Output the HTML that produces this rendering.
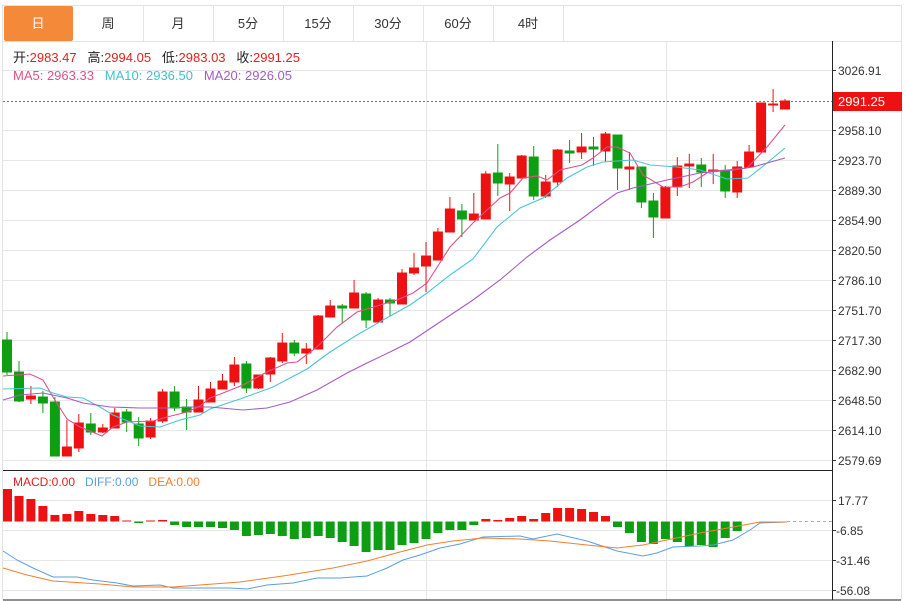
<!DOCTYPE html>
<html><head><meta charset="utf-8"><style>
body{margin:0;background:#fff;width:908px;height:601px;overflow:hidden;font-family:"Liberation Sans","Noto Sans CJK SC",sans-serif}
svg{position:absolute;left:0;top:0}
.t{font-size:13px;fill:#333;text-anchor:middle}
.ax{font-size:12px;fill:#333}
</style></head><body>
<svg width="908" height="601" xmlns="http://www.w3.org/2000/svg">
<rect x="2.5" y="5.5" width="899" height="36" fill="#fff" stroke="#e3e3e3"/>
<rect x="4" y="6" width="69" height="35" fill="#f5893a" rx="2"/>
<g stroke="#e3e3e3"><line x1="143.5" y1="6" x2="143.5" y2="41"/><line x1="213.5" y1="6" x2="213.5" y2="41"/><line x1="283.5" y1="6" x2="283.5" y2="41"/><line x1="353.5" y1="6" x2="353.5" y2="41"/><line x1="423.5" y1="6" x2="423.5" y2="41"/><line x1="493.5" y1="6" x2="493.5" y2="41"/><line x1="563.5" y1="6" x2="563.5" y2="41"/></g>
<text class="t" x="38" y="28" style="fill:#fff">日</text>
<text class="t" x="108" y="28">周</text>
<text class="t" x="178" y="28">月</text>
<text class="t" x="248" y="28">5分</text>
<text class="t" x="318" y="28">15分</text>
<text class="t" x="388" y="28">30分</text>
<text class="t" x="458" y="28">60分</text>
<text class="t" x="528" y="28">4时</text>
<line x1="2.5" y1="41" x2="2.5" y2="600" stroke="#e3e3e3"/>
<line x1="901.5" y1="41" x2="901.5" y2="600" stroke="#e3e3e3"/>
<g stroke="#e6e6e6">
<line x1="3" y1="70.5" x2="832" y2="70.5"/><line x1="3" y1="130.5" x2="832" y2="130.5"/><line x1="3" y1="160.5" x2="832" y2="160.5"/><line x1="3" y1="190.5" x2="832" y2="190.5"/><line x1="3" y1="220.5" x2="832" y2="220.5"/><line x1="3" y1="250.5" x2="832" y2="250.5"/><line x1="3" y1="280.5" x2="832" y2="280.5"/><line x1="3" y1="310.5" x2="832" y2="310.5"/><line x1="3" y1="340.5" x2="832" y2="340.5"/><line x1="3" y1="370.5" x2="832" y2="370.5"/><line x1="3" y1="400.5" x2="832" y2="400.5"/><line x1="3" y1="430.5" x2="832" y2="430.5"/><line x1="3" y1="460.5" x2="832" y2="460.5"/>
<line x1="3" y1="500.5" x2="832" y2="500.5"/><line x1="3" y1="530.5" x2="832" y2="530.5"/><line x1="3" y1="560.5" x2="832" y2="560.5"/><line x1="3" y1="590.5" x2="832" y2="590.5"/>
<line x1="426.5" y1="41" x2="426.5" y2="600"/><line x1="666.5" y1="41" x2="666.5" y2="600"/>
</g>
<line x1="832.5" y1="41" x2="832.5" y2="600" stroke="#222"/>
<line x1="3" y1="470.5" x2="832" y2="470.5" stroke="#222"/>
<line x1="3" y1="600" x2="901" y2="600" stroke="#222"/>
<g class="ax"><g stroke="#333">
<line x1="832" y1="70.5" x2="836" y2="70.5"/><line x1="832" y1="130.5" x2="836" y2="130.5"/><line x1="832" y1="160.5" x2="836" y2="160.5"/><line x1="832" y1="190.5" x2="836" y2="190.5"/><line x1="832" y1="220.5" x2="836" y2="220.5"/><line x1="832" y1="250.5" x2="836" y2="250.5"/><line x1="832" y1="280.5" x2="836" y2="280.5"/><line x1="832" y1="310.5" x2="836" y2="310.5"/><line x1="832" y1="340.5" x2="836" y2="340.5"/><line x1="832" y1="370.5" x2="836" y2="370.5"/><line x1="832" y1="400.5" x2="836" y2="400.5"/><line x1="832" y1="430.5" x2="836" y2="430.5"/><line x1="832" y1="460.5" x2="836" y2="460.5"/><line x1="832" y1="500.5" x2="836" y2="500.5"/><line x1="832" y1="530.5" x2="836" y2="530.5"/><line x1="832" y1="560.5" x2="836" y2="560.5"/><line x1="832" y1="590.5" x2="836" y2="590.5"/></g>
<text x="838" y="75">3026.91</text><text x="838" y="135">2958.10</text><text x="838" y="165">2923.70</text><text x="838" y="195">2889.30</text><text x="838" y="225">2854.90</text><text x="838" y="255">2820.50</text><text x="838" y="285">2786.10</text><text x="838" y="315">2751.70</text><text x="838" y="345">2717.30</text><text x="838" y="375">2682.90</text><text x="838" y="405">2648.50</text><text x="838" y="435">2614.10</text><text x="838" y="465">2579.69</text>
<text x="838" y="505">17.77</text><text x="836" y="535">-6.85</text><text x="836" y="565">-31.46</text><text x="836" y="595">-56.08</text>
</g>
<line x1="3" y1="101.5" x2="832" y2="101.5" stroke="#f04040" stroke-dasharray="2,2"/>
<rect x="833" y="92" width="69" height="19" fill="#ee1111"/>
<text x="838" y="106" style="font-size:13px;fill:#fff">2991.25</text>
<text x="13" y="62" style="font-size:13px;fill:#222" xml:space="preserve">开:<tspan fill="#e02020">2983.47</tspan>   高:<tspan fill="#e02020">2994.05</tspan>   低:<tspan fill="#e02020">2983.03</tspan>   收:<tspan fill="#e02020">2991.25</tspan></text>
<text x="13" y="80" style="font-size:13px" xml:space="preserve"><tspan fill="#e0508a">MA5: 2963.33</tspan>   <tspan fill="#3ec3c8">MA10: 2936.50</tspan>   <tspan fill="#a35cc4">MA20: 2926.05</tspan></text>
<text x="13" y="486" style="font-size:12px" xml:space="preserve"><tspan fill="#e02020">MACD:0.00</tspan>   <tspan fill="#5a9fe0">DIFF:0.00</tspan>   <tspan fill="#f08030">DEA:0.00</tspan></text>
<g stroke-width="1">
<g fill="#0e9e14" stroke="#0e9e14">
<line x1="7" y1="332" x2="7" y2="375"/><rect x="2.5" y="340" width="9" height="32"/>
<line x1="19" y1="361" x2="19" y2="402"/><rect x="14.5" y="372" width="9" height="29"/>
<line x1="42.9" y1="391" x2="42.9" y2="413"/><rect x="38.4" y="397" width="9" height="6"/>
<line x1="54.9" y1="397" x2="54.9" y2="456"/><rect x="50.4" y="402" width="9" height="54"/>
<line x1="90.8" y1="413" x2="90.8" y2="435"/><rect x="86.3" y="424" width="9" height="8"/>
<line x1="126.7" y1="409" x2="126.7" y2="432"/><rect x="122.2" y="412" width="9" height="10"/>
<line x1="138.7" y1="417" x2="138.7" y2="446"/><rect x="134.2" y="424" width="9" height="14"/>
<line x1="174.6" y1="386" x2="174.6" y2="411"/><rect x="170.1" y="392" width="9" height="16"/>
<line x1="186.6" y1="399" x2="186.6" y2="430"/><rect x="182.1" y="407" width="9" height="5"/>
<line x1="246.4" y1="361" x2="246.4" y2="393"/><rect x="241.9" y="364" width="9" height="24"/>
<line x1="294.3" y1="340" x2="294.3" y2="356"/><rect x="289.8" y="343" width="9" height="10"/>
<line x1="342.2" y1="304" x2="342.2" y2="323"/><rect x="337.7" y="306" width="9" height="2"/>
<line x1="366.1" y1="292" x2="366.1" y2="328"/><rect x="361.6" y="294" width="9" height="26"/>
<line x1="390" y1="298" x2="390" y2="316"/><rect x="385.5" y="300" width="9" height="3"/>
<line x1="461.9" y1="204" x2="461.9" y2="237"/><rect x="457.4" y="211" width="9" height="8"/>
<line x1="497.8" y1="144" x2="497.8" y2="196"/><rect x="493.3" y="173" width="9" height="10"/>
<line x1="533.7" y1="146" x2="533.7" y2="200"/><rect x="529.2" y="157" width="9" height="39"/>
<line x1="569.6" y1="140" x2="569.6" y2="163"/><rect x="565.1" y="151" width="9" height="2"/>
<line x1="593.5" y1="137" x2="593.5" y2="166"/><rect x="589" y="147" width="9" height="2"/>
<line x1="617.5" y1="135" x2="617.5" y2="190"/><rect x="613" y="135" width="9" height="33"/>
<line x1="641.4" y1="167" x2="641.4" y2="208"/><rect x="636.9" y="167" width="9" height="35"/>
<line x1="653.4" y1="193" x2="653.4" y2="238"/><rect x="648.9" y="201" width="9" height="16"/>
<line x1="701.3" y1="158" x2="701.3" y2="187"/><rect x="696.8" y="165" width="9" height="7"/>
<line x1="725.2" y1="165" x2="725.2" y2="198"/><rect x="720.7" y="171" width="9" height="20"/>
</g>
<g fill="#ee1111" stroke="#ee1111">
<line x1="30.9" y1="386" x2="30.9" y2="404"/><rect x="26.4" y="396" width="9" height="3"/>
<line x1="66.9" y1="420" x2="66.9" y2="456"/><rect x="62.4" y="447" width="9" height="9"/>
<line x1="78.8" y1="414" x2="78.8" y2="452"/><rect x="74.3" y="423" width="9" height="25"/>
<line x1="102.8" y1="424" x2="102.8" y2="433"/><rect x="98.3" y="428" width="9" height="4"/>
<line x1="114.7" y1="408" x2="114.7" y2="428"/><rect x="110.2" y="413" width="9" height="15"/>
<line x1="150.6" y1="418" x2="150.6" y2="439"/><rect x="146.1" y="421" width="9" height="16"/>
<line x1="162.6" y1="389" x2="162.6" y2="423"/><rect x="158.1" y="392" width="9" height="29"/>
<line x1="198.5" y1="386" x2="198.5" y2="412"/><rect x="194" y="400" width="9" height="12"/>
<line x1="210.5" y1="382" x2="210.5" y2="402"/><rect x="206" y="389" width="9" height="13"/>
<line x1="222.5" y1="374" x2="222.5" y2="389"/><rect x="218" y="381" width="9" height="8"/>
<line x1="234.4" y1="357" x2="234.4" y2="386"/><rect x="229.9" y="365" width="9" height="17"/>
<line x1="258.4" y1="375" x2="258.4" y2="389"/><rect x="253.9" y="375" width="9" height="13"/>
<line x1="270.3" y1="357" x2="270.3" y2="382"/><rect x="265.8" y="358" width="9" height="16"/>
<line x1="282.3" y1="333" x2="282.3" y2="363"/><rect x="277.8" y="343" width="9" height="18"/>
<line x1="306.3" y1="343" x2="306.3" y2="364"/><rect x="301.8" y="349" width="9" height="4"/>
<line x1="318.2" y1="315" x2="318.2" y2="349"/><rect x="313.7" y="316" width="9" height="33"/>
<line x1="330.2" y1="300" x2="330.2" y2="317"/><rect x="325.7" y="306" width="9" height="11"/>
<line x1="354.1" y1="280" x2="354.1" y2="308"/><rect x="349.6" y="293" width="9" height="15"/>
<line x1="378.1" y1="298" x2="378.1" y2="322"/><rect x="373.6" y="300" width="9" height="22"/>
<line x1="402" y1="269" x2="402" y2="304"/><rect x="397.5" y="273" width="9" height="31"/>
<line x1="414" y1="253" x2="414" y2="275"/><rect x="409.5" y="268" width="9" height="5"/>
<line x1="426" y1="242" x2="426" y2="292"/><rect x="421.5" y="256" width="9" height="10"/>
<line x1="437.9" y1="228" x2="437.9" y2="260"/><rect x="433.4" y="232" width="9" height="28"/>
<line x1="449.9" y1="197" x2="449.9" y2="232"/><rect x="445.4" y="209" width="9" height="23"/>
<line x1="473.8" y1="193" x2="473.8" y2="220"/><rect x="469.3" y="214" width="9" height="6"/>
<line x1="485.8" y1="171" x2="485.8" y2="219"/><rect x="481.3" y="174" width="9" height="45"/>
<line x1="509.7" y1="173" x2="509.7" y2="211"/><rect x="505.2" y="177" width="9" height="7"/>
<line x1="521.7" y1="155" x2="521.7" y2="178"/><rect x="517.2" y="156" width="9" height="22"/>
<line x1="545.7" y1="175" x2="545.7" y2="198"/><rect x="541.2" y="182" width="9" height="14"/>
<line x1="557.6" y1="149" x2="557.6" y2="187"/><rect x="553.1" y="150" width="9" height="32"/>
<line x1="581.6" y1="133" x2="581.6" y2="159"/><rect x="577.1" y="147" width="9" height="5"/>
<line x1="605.5" y1="132" x2="605.5" y2="162"/><rect x="601" y="134" width="9" height="17"/>
<line x1="629.4" y1="152" x2="629.4" y2="190"/><rect x="624.9" y="167" width="9" height="2"/>
<line x1="665.4" y1="186" x2="665.4" y2="218"/><rect x="660.9" y="187" width="9" height="31"/>
<line x1="677.3" y1="157" x2="677.3" y2="196"/><rect x="672.8" y="166" width="9" height="21"/>
<line x1="689.3" y1="154" x2="689.3" y2="188"/><rect x="684.8" y="164" width="9" height="2"/>
<line x1="713.2" y1="154" x2="713.2" y2="184"/><rect x="708.7" y="170" width="9" height="1"/>
<line x1="737.2" y1="161" x2="737.2" y2="198"/><rect x="732.7" y="167" width="9" height="25"/>
<line x1="749.1" y1="145" x2="749.1" y2="167"/><rect x="744.6" y="152" width="9" height="15"/>
<line x1="761.1" y1="103" x2="761.1" y2="152"/><rect x="756.6" y="103" width="9" height="49"/>
<line x1="773.1" y1="89" x2="773.1" y2="112"/><rect x="768.6" y="104" width="9" height="1"/>
<line x1="785" y1="99" x2="785" y2="109"/><rect x="780.5" y="101" width="9" height="8"/>
</g>
</g>
<g fill="none" stroke-width="1.1">
<polyline stroke="#e0508a" points="3,376 30,374 43,380 53,397 67,419 80,427 102,436 113,427 127,422 153,421 167,417 187,412 200,406 210,398 223,393 243,385 267,372 287,363 297,362 317,347 337,327 357,312 377,306 397,300 413,293 427,283 450,247 473,223 487,210 500,198 510,193 523,178 537,176 547,180 560,170 582,165 593,158 607,147 617,147 630,153 643,175 663,187 680,187 693,182 710,171 727,170 747,168 767,147 785,125"/>
<polyline stroke="#4cc4d4" points="3,389 40,388 53,393 67,397 83,398 100,407 113,415 140,426 160,427 180,420 200,415 210,409 243,398 273,387 307,369 330,352 357,335 383,320 410,305 427,293 450,275 473,259 497,227 520,208 543,198 567,178 587,167 603,162 617,161 633,160 650,165 677,167 700,170 727,179 748,178 767,163 785,148"/>
<polyline stroke="#a35cc4" points="3,400 20,395 43,393 67,398 83,403 110,407 140,408 167,408 190,407 210,407 243,410 267,408 290,402 317,390 347,373 367,363 390,352 410,342 443,320 473,300 500,280 527,257 550,240 580,220 600,205 617,193 633,188 667,180 700,173 733,170 753,167 785,158"/>
</g>
<g fill="#ee1111">
<rect x="3" y="489" width="9" height="32.5"/><rect x="14.5" y="496" width="9" height="25.5"/><rect x="26.4" y="499" width="9" height="22.5"/><rect x="38.4" y="506" width="9" height="15.5"/><rect x="50.4" y="515" width="9" height="6.5"/><rect x="62.4" y="514" width="9" height="7.5"/><rect x="74.3" y="511" width="9" height="10.5"/><rect x="86.3" y="514" width="9" height="7.5"/><rect x="98.3" y="515" width="9" height="6.5"/><rect x="110.2" y="516" width="9" height="5.5"/><rect x="122.2" y="520.5" width="9" height="1"/><rect x="146.1" y="520.5" width="9" height="1"/><rect x="158.1" y="520" width="9" height="1.5"/>
<rect x="481.3" y="519" width="9" height="2.5"/><rect x="493.3" y="520" width="9" height="1.5"/><rect x="505.2" y="518" width="9" height="3.5"/><rect x="517.2" y="516" width="9" height="5.5"/><rect x="529.2" y="519" width="9" height="2.5"/><rect x="541.2" y="513" width="9" height="8.5"/><rect x="553.1" y="508" width="9" height="13.5"/><rect x="565.1" y="508" width="9" height="13.5"/><rect x="577.1" y="509" width="9" height="12.5"/><rect x="589" y="512" width="9" height="9.5"/><rect x="601" y="516" width="9" height="5.5"/>
</g>
<g fill="#0e9e14">
<rect x="134.2" y="521.5" width="9" height="1.5"/><rect x="170.1" y="521.5" width="9" height="3.5"/><rect x="182.1" y="521.5" width="9" height="5.5"/><rect x="194" y="521.5" width="9" height="5.5"/><rect x="206" y="521.5" width="9" height="5.5"/><rect x="218" y="521.5" width="9" height="6.5"/><rect x="229.9" y="521.5" width="9" height="8.5"/><rect x="241.9" y="521.5" width="9" height="14.5"/><rect x="253.9" y="521.5" width="9" height="13.5"/><rect x="265.8" y="521.5" width="9" height="12.5"/><rect x="277.8" y="521.5" width="9" height="14.5"/><rect x="289.8" y="521.5" width="9" height="17.5"/><rect x="301.8" y="521.5" width="9" height="16.5"/><rect x="313.7" y="521.5" width="9" height="14.5"/><rect x="325.7" y="521.5" width="9" height="16.5"/><rect x="337.7" y="521.5" width="9" height="20.5"/><rect x="349.6" y="521.5" width="9" height="24.5"/><rect x="361.6" y="521.5" width="9" height="30.5"/><rect x="373.6" y="521.5" width="9" height="28.5"/><rect x="385.5" y="521.5" width="9" height="28.5"/><rect x="397.5" y="521.5" width="9" height="23.5"/><rect x="409.5" y="521.5" width="9" height="21.5"/><rect x="421.5" y="521.5" width="9" height="17.5"/><rect x="433.4" y="521.5" width="9" height="11.5"/><rect x="445.4" y="521.5" width="9" height="8.5"/><rect x="457.4" y="521.5" width="9" height="8.5"/><rect x="469.3" y="521.5" width="9" height="3.5"/>
<rect x="613" y="521.5" width="9" height="5.5"/><rect x="624.9" y="521.5" width="9" height="11.5"/><rect x="636.9" y="521.5" width="9" height="20.5"/><rect x="648.9" y="521.5" width="9" height="22.5"/><rect x="660.9" y="521.5" width="9" height="17.5"/><rect x="672.8" y="521.5" width="9" height="20.5"/><rect x="684.8" y="521.5" width="9" height="24.5"/><rect x="696.8" y="521.5" width="9" height="23.5"/><rect x="708.7" y="521.5" width="9" height="25.5"/><rect x="720.7" y="521.5" width="9" height="16.5"/><rect x="732.7" y="521.5" width="9" height="9.5"/>
</g>
<line x1="787" y1="521.5" x2="832" y2="521.5" stroke="#aab" stroke-dasharray="3,3"/>
<g fill="none" stroke-width="1">
<polyline stroke="#5a9fe0" points="3,551 17,560 33,568 53,577 77,577 93,580 117,583 133,586 160,585 173,588 200,588 230,588 247,589 267,585 293,583 317,578 340,578 367,576 387,568 403,560 420,555 440,548 460,544 483,537 520,536 533,539 557,534 587,541 617,551 643,556 657,553 673,547 700,546 713,545 733,540 750,530 760,523 787,522"/>
<polyline stroke="#f08030" points="3,568 27,575 53,581 100,584 133,587 173,587 240,582 283,576 333,568 367,561 400,552 427,545 453,541 483,538 520,539 550,541 587,545 617,548 643,545 667,540 700,533 733,527 760,522 787,522"/>
</g>
</svg>
</body></html>
